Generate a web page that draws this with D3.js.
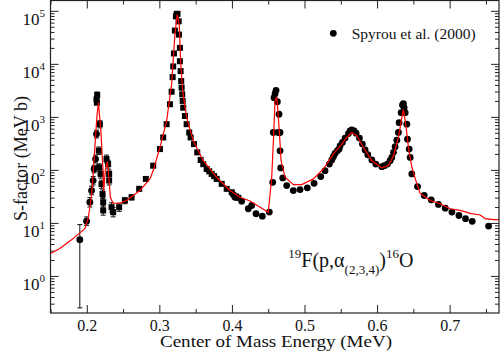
<!DOCTYPE html>
<html>
<head>
<meta charset="utf-8">
<script src="https://cdn.jsdelivr.net/npm/d3@7"></script>
<style>
  body { margin: 0; background: #fff; }
  svg { display: block; }
  svg text { font-family: "Liberation Serif", "Times New Roman", serif; fill: #111; }
</style>
</head>
<body>
<svg id="chart"></svg>
<script>
"use strict";

// =================== DATA ===================
// fit curve (E in MeV, S in MeV b)
const fitE = [0.150, 0.1628, 0.1812, 0.1973, 0.2019, 0.2066, 0.2088, 0.2111, 0.2139, 0.2160,
  0.2194, 0.2226, 0.2232, 0.2256, 0.2286, 0.2308, 0.2325, 0.2363, 0.2456, 0.2548,
  0.2732, 0.2870, 0.2915, 0.3008, 0.3100, 0.3169, 0.3214, 0.3246, 0.3274, 0.3293,
  0.3321, 0.3376, 0.3467, 0.3605, 0.3790, 0.3973, 0.4111, 0.4249, 0.4501, 0.4548,
  0.4573, 0.4594, 0.4617, 0.4635, 0.4653, 0.4677, 0.4732, 0.4846, 0.4962, 0.5122,
  0.5260, 0.5398, 0.5490, 0.5583, 0.5652, 0.5721, 0.5812, 0.5928, 0.6066, 0.6157,
  0.6226, 0.6294, 0.6341, 0.6363, 0.6401, 0.6432, 0.6479, 0.6548, 0.6594, 0.6732,
  0.6870, 0.7008, 0.7146, 0.7283, 0.7421, 0.7490, 0.7605, 0.7697];
const fitS = [2.64, 3.28, 5.06, 7.8, 12, 32.9, 83, 264, 1000, 1860,
  545, 84, 40, 100, 145, 60, 30, 23.5, 23.5, 26.5,
  40.8, 67.6, 97, 264, 837, 4100, 35600, 85000, 55000, 11200,
  3070, 968, 354, 149, 72.5, 40.8, 30.5, 25.9, 15.9, 72,
  400, 2000, 2370, 1200, 545, 149, 72.5, 52.7, 52.7, 67.6,
  104, 199, 280, 409, 507, 439, 265, 149, 109, 121,
  185, 409, 968, 1390, 629, 265, 112, 54.5, 36, 26.5,
  23, 18.5, 17.2, 15.1, 14.1, 12, 11.5, 11.6];

// earlier data set (squares)
const squareData = [
  [0.2139, 1850], [0.2134, 2140], [0.2143, 2580], [0.2180, 728], [0.2166, 230],
  [0.2170, 112], [0.2190, 84], [0.2203, 54], [0.2217, 35], [0.2226, 24.6], [0.2226, 17.2],
  [0.2272, 160], [0.2294, 129], [0.2308, 84], [0.2308, 63],
  [0.2341, 19.8], [0.2363, 15.9], [0.2446, 19.8], [0.2525, 26.5], [0.2617, 30.5],
  [0.2722, 43.9], [0.2814, 67.5], [0.2915, 120], [0.3008, 247], [0.3053, 409],
  [0.3100, 728], [0.3146, 1730], [0.3169, 2980], [0.3183, 5620], [0.3191, 8940],
  [0.3201, 15700], [0.3214, 42400], [0.3228, 78500], [0.3238, 86700], [0.3250, 88000],
  [0.3266, 63400], [0.3270, 35600], [0.3283, 20000], [0.3283, 11200], [0.3293, 7300],
  [0.3301, 4730], [0.3307, 3550], [0.3315, 2660], [0.3321, 2000], [0.3329, 1490],
  [0.3352, 1040], [0.3376, 728], [0.3412, 507], [0.3431, 409], [0.3477, 307],
  [0.3522, 214], [0.3569, 154], [0.3605, 128], [0.3652, 104], [0.3687, 94],
  [0.3721, 84], [0.3755, 76], [0.3790, 67.6], [0.3859, 54.5], [0.3928, 43.9],
  [0.3997, 37.9], [0.4056, 31.6], [0.4088, 29.7]
];

// Spyrou et al. (2000) (circles)
const spyrouData = [
  [0.1904, 4.84], [0.1997, 10.8], [0.2042, 24.6], [0.2066, 40.8], [0.2088, 62.8],
  [0.2101, 104], [0.2121, 160], [0.2134, 473],
  [0.4019, 34.3], [0.4042, 30.5], [0.4134, 25.7], [0.4226, 18.5], [0.4272, 21.3],
  [0.4332, 14.9], [0.4419, 13.4], [0.4515, 16.0], [0.4562, 58.3], [0.4570, 507],
  [0.4580, 2300], [0.4594, 2730], [0.4608, 3160], [0.4626, 1930], [0.4649, 1120],
  [0.4639, 507], [0.4663, 507], [0.4663, 229], [0.4672, 109], [0.4700, 70.6],
  [0.4755, 50.6], [0.4846, 40.8], [0.4939, 42.5], [0.5039, 45.8], [0.5132, 55.9],
  [0.5224, 74.7], [0.5283, 96.8], [0.5343, 129], [0.5376, 154], [0.5398, 177],
  [0.5421, 204], [0.5453, 230], [0.5477, 247], [0.5490, 285], [0.5522, 329],
  [0.5559, 398], [0.5605, 485], [0.5628, 545], [0.5652, 569], [0.5683, 545],
  [0.5711, 493], [0.5757, 398], [0.5798, 307], [0.5835, 237], [0.5872, 193],
  [0.5928, 154], [0.5983, 129], [0.6066, 115], [0.6101, 120], [0.6143, 129],
  [0.6180, 149], [0.6203, 172], [0.6226, 214], [0.6249, 273], [0.6272, 363],
  [0.6294, 507], [0.6304, 777], [0.6332, 1200], [0.6350, 1680], [0.6363, 1780],
  [0.6373, 1490], [0.6387, 1200], [0.6410, 728], [0.6419, 380], [0.6442, 247],
  [0.6456, 172], [0.6479, 84], [0.6557, 48.5], [0.6649, 32.9], [0.6746, 27.3],
  [0.6846, 22.3], [0.6939, 19.0], [0.7031, 16.0], [0.7128, 13.8], [0.7219, 12.0],
  [0.7311, 10.7], [0.7536, 8.7]
];

// error bars [E, low, high]
const errorBars = [
  [0.1904, 0.25, 9.3], [0.1997, 9.0, 13.0], [0.2042, 20, 30], [0.2066, 34, 49],
  [0.2088, 52, 75], [0.2101, 88, 122], [0.2121, 135, 190], [0.2134, 400, 560],
  [0.2143, 2250, 2950], [0.2180, 620, 850], [0.2166, 195, 270], [0.2170, 95, 130],
  [0.2190, 70, 100], [0.2203, 45, 64], [0.2217, 29, 42], [0.2226, 20, 30],
  [0.2226, 14, 21], [0.2272, 135, 190], [0.2294, 108, 152], [0.2308, 70, 100],
  [0.2308, 52, 75], [0.2341, 16, 24], [0.2363, 13, 19.5], [0.2446, 16.5, 23.5],
  [0.2525, 23, 30], [0.2617, 27, 34]
];

const xMajor = [0.2, 0.3, 0.4, 0.5, 0.6, 0.7];
const xMinor = [0.15, 0.25, 0.35, 0.45, 0.55, 0.65, 0.75];
const yExponents = [0, 1, 2, 3, 4, 5];

// =================== SETUP ===================
const svgWidth = 500;
const svgHeight = 354;
const plot = { left: 50.5, right: 499, top: 0.5, bottom: 313 };

const svg = d3.select("#chart")
  .attr("width", svgWidth)
  .attr("height", svgHeight);

const x = d3.scaleLinear().domain([0.15, 0.768]).range([plot.left, plot.right]);
const y = d3.scaleLog().domain([0.2, 1.6e5]).range([plot.bottom, 0]);

svg.append("clipPath").attr("id", "clip")
  .append("rect")
  .attr("x", plot.left).attr("y", plot.top)
  .attr("width", plot.right - plot.left).attr("height", plot.bottom - plot.top);

const yMajor = yExponents.map(e => Math.pow(10, e));
const yMinor = [];
for (let e = -1; e <= 5; e++) {
  for (let k = 2; k <= 9; k++) {
    const v = k * Math.pow(10, e);
    if (v > 0.2 && v < 1.6e5) yMinor.push(v);
  }
}

// =================== TICKS ===================
function tickAxis(axis, tx, ty) {
  const g = svg.append("g").attr("transform", `translate(${tx},${ty})`).call(axis);
  g.select(".domain").remove();
  g.selectAll("line").attr("stroke", "#222").attr("stroke-width", 1);
}
tickAxis(d3.axisBottom(x).tickValues(xMajor).tickSize(-8).tickFormat(""), 0, plot.bottom);
tickAxis(d3.axisBottom(x).tickValues(xMinor).tickSize(-4).tickFormat(""), 0, plot.bottom);
tickAxis(d3.axisTop(x).tickValues(xMajor).tickSize(-8).tickFormat(""), 0, plot.top);
tickAxis(d3.axisTop(x).tickValues(xMinor).tickSize(-4).tickFormat(""), 0, plot.top);
tickAxis(d3.axisLeft(y).tickValues(yMajor).tickSize(-8).tickFormat(""), plot.left, 0);
tickAxis(d3.axisLeft(y).tickValues(yMinor).tickSize(-4).tickFormat(""), plot.left, 0);
tickAxis(d3.axisRight(y).tickValues(yMajor).tickSize(-8).tickFormat(""), plot.right, 0);
tickAxis(d3.axisRight(y).tickValues(yMinor).tickSize(-4).tickFormat(""), plot.right, 0);

// x tick labels
const xLab = svg.append("g")
  .attr("transform", `translate(0,${plot.bottom})`)
  .call(d3.axisBottom(x).tickValues(xMajor).tickSize(0).tickPadding(7).tickFormat(d3.format(".1f")));
xLab.select(".domain").remove();
xLab.selectAll("text")
  .attr("font-family", null)
  .attr("font-size", null)
  .style("font-family", "'Liberation Serif', serif")
  .style("font-size", "16px")
  .style("fill", "#111");

// y tick labels: 10^n
yExponents.forEach(e => {
  const t = svg.append("text")
    .attr("x", 45)
    .attr("y", y(Math.pow(10, e)) + 14)
    .attr("text-anchor", "end")
    .style("font-size", "17px");
  t.append("tspan").text("10");
  t.append("tspan").attr("dy", -8).style("font-size", "11px").text(e);
});

// =================== MARKS ===================
const marks = svg.append("g").attr("clip-path", "url(#clip)");

// error bars
errorBars.forEach(d => {
  const cx = x(d[0]);
  marks.append("line")
    .attr("x1", cx).attr("x2", cx)
    .attr("y1", y(d[1])).attr("y2", y(d[2]))
    .attr("stroke", "#111").attr("stroke-width", 1);
  [d[1], d[2]].forEach(v => {
    marks.append("line")
      .attr("x1", cx - 2.5).attr("x2", cx + 2.5)
      .attr("y1", y(v)).attr("y2", y(v))
      .attr("stroke", "#111").attr("stroke-width", 1);
  });
});

marks.selectAll("rect.sq")
  .data(squareData)
  .enter()
  .append("rect")
  .attr("class", "sq")
  .attr("x", d => x(d[0]) - 3)
  .attr("y", d => y(d[1]) - 3)
  .attr("width", 6)
  .attr("height", 6)
  .attr("fill", "#000");

marks.selectAll("circle.dot")
  .data(spyrouData)
  .enter()
  .append("circle")
  .attr("class", "dot")
  .attr("cx", d => x(d[0]))
  .attr("cy", d => y(d[1]))
  .attr("r", 3.4)
  .attr("fill", "#000");

const line = d3.line()
  .x((d, i) => x(fitE[i]))
  .y((d, i) => y(fitS[i]));

marks.append("path")
  .datum(fitS)
  .attr("d", line)
  .attr("fill", "none")
  .attr("stroke", "#ff0000")
  .attr("stroke-width", 1.2);

// =================== FRAME ===================
svg.append("rect")
  .attr("x", plot.left).attr("y", plot.top)
  .attr("width", plot.right - plot.left).attr("height", plot.bottom - plot.top)
  .attr("fill", "none").attr("stroke", "#222").attr("stroke-width", 1.2);

// =================== LABELS ===================
svg.append("text")
  .attr("x", 160)
  .attr("y", 347)
  .attr("textLength", 232)
  .attr("lengthAdjust", "spacingAndGlyphs")
  .style("font-size", "16px")
  .text("Center of Mass Energy (MeV)");

svg.append("text")
  .attr("transform", "rotate(-90)")
  .attr("x", -221)
  .attr("y", 27)
  .attr("textLength", 125)
  .attr("lengthAdjust", "spacingAndGlyphs")
  .style("font-size", "18px")
  .text("S-factor (MeV b)");

// legend
svg.append("circle")
  .attr("cx", 333.3).attr("cy", 33.3).attr("r", 3.4).attr("fill", "#000");
svg.append("text")
  .attr("x", 351.7).attr("y", 38.5)
  .style("font-size", "15.5px")
  .text("Spyrou et al. (2000)");

// reaction label
const rx = svg.append("text")
  .attr("x", 288.3).attr("y", 266.7)
  .style("font-size", "20px");
rx.append("tspan").attr("dy", -9).style("font-size", "13px").text("19");
rx.append("tspan").attr("dy", 9).text("F(p,α");
rx.append("tspan").attr("dy", 7).style("font-size", "13px").text("(2,3,4)");
rx.append("tspan").attr("dy", -7).text(")");
rx.append("tspan").attr("dy", -9).style("font-size", "13px").text("16");
rx.append("tspan").attr("dy", 9).text("O");
</script>
</body>
</html>
